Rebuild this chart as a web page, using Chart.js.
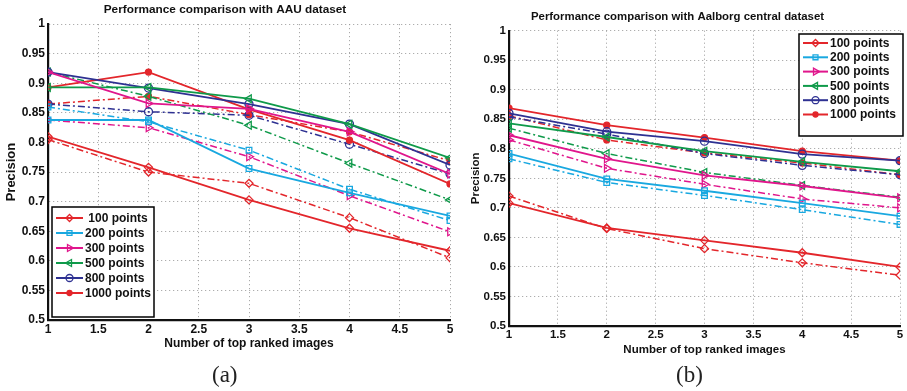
<!DOCTYPE html>
<html>
<head>
<meta charset="utf-8">
<script src="https://cdn.jsdelivr.net/npm/chart.js@4"></script>
<style>
  body { margin: 0; background: #fff; width: 907px; height: 391px; position: relative; overflow: hidden; }
  #wrapA { position: absolute; left: 0; top: 0; width: 460px; height: 391px; }
  #wrapB { position: absolute; left: 455px; top: 0; width: 452px; height: 391px; }
  .cap { position: absolute; top: 362px; font-family: "Liberation Serif", serif; font-size: 23px; color: #222; }
</style>
</head>
<body>
<div id="wrapA"><canvas id="chartA" width="460" height="391"></canvas></div>
<div id="wrapB"><canvas id="chartB" width="452" height="391"></canvas></div>
<div class="cap" style="left:212px">(a)</div>
<div class="cap" style="left:676px">(b)</div>
<script>
// ================== Data ==================
const xs = [1, 2, 3, 4, 5];
const labels = ["100 points", "200 points", "300 points", "500 points", "800 points", "1000 points"];

// (a) AAU dataset - solid lines
const aau100 = [0.810, 0.758, 0.703, 0.655, 0.617];
const aau200 = [0.838, 0.838, 0.756, 0.715, 0.676];
const aau300 = [0.919, 0.866, 0.857, 0.818, 0.747];
const aau500 = [0.893, 0.893, 0.874, 0.831, 0.774];
const aau800 = [0.919, 0.892, 0.865, 0.831, 0.762];
const aau1000 = [0.893, 0.919, 0.856, 0.804, 0.730];
// (a) AAU dataset - dash-dot lines
const aau100b = [0.805, 0.750, 0.731, 0.673, 0.605];
const aau200b = [0.860, 0.835, 0.787, 0.721, 0.668];
const aau300b = [0.838, 0.825, 0.776, 0.710, 0.649];
const aau500b = [0.919, 0.878, 0.829, 0.765, 0.703];
const aau800b = [0.865, 0.852, 0.846, 0.797, 0.747];
const aau1000b = [0.865, 0.878, 0.847, 0.818, 0.769];

// (b) Aalborg central dataset - solid lines
const aal100 = [0.708, 0.666, 0.645, 0.624, 0.600];
const aal200 = [0.792, 0.749, 0.729, 0.708, 0.686];
const aal300 = [0.823, 0.783, 0.755, 0.737, 0.717];
const aal500 = [0.843, 0.820, 0.796, 0.778, 0.762];
const aal800 = [0.860, 0.829, 0.813, 0.791, 0.780];
const aal1000 = [0.869, 0.840, 0.819, 0.796, 0.780];
// (b) Aalborg central dataset - dash-dot lines
const aal100b = [0.720, 0.665, 0.631, 0.607, 0.586];
const aal200b = [0.783, 0.743, 0.721, 0.697, 0.672];
const aal300b = [0.815, 0.767, 0.740, 0.715, 0.700];
const aal500b = [0.835, 0.792, 0.760, 0.738, 0.718];
const aal800b = [0.854, 0.825, 0.792, 0.772, 0.756];
const aal1000b = [0.856, 0.815, 0.793, 0.776, 0.756];

// ================== Styles ==================
const RED = "#e3262b";
const CYAN = "#19a8e0";
const MAGENTA = "#e0168c";
const GREEN = "#0f9a4a";
const NAVY = "#2e3192";

const seriesStyle = [
  { color: RED, pointStyle: "rectRot", radius: 4, rotation: 0, filled: false },
  { color: CYAN, pointStyle: "rect", radius: 4, rotation: 0, filled: false },
  { color: MAGENTA, pointStyle: "triangle", radius: 4.5, rotation: 90, filled: false },
  { color: GREEN, pointStyle: "triangle", radius: 4.5, rotation: -90, filled: false },
  { color: NAVY, pointStyle: "circle", radius: 4, rotation: 0, filled: false },
  { color: RED, pointStyle: "circle", radius: 3, rotation: 0, filled: true },
];

const toPoints = (vals) => vals.map((v, i) => ({ x: xs[i], y: v }));

function buildDatasets(solid, dashed) {
  const out = [];
  solid.forEach((vals, i) => {
    const s = seriesStyle[i];
    out.push({
      label: labels[i],
      data: toPoints(vals),
      borderColor: s.color,
      backgroundColor: s.filled ? s.color : "rgba(255,255,255,0)",
      borderWidth: 1.8,
      pointStyle: s.pointStyle,
      pointRadius: s.radius,
      pointRotation: s.rotation,
      pointBorderWidth: 1.3,
      tension: 0,
      dashed: false,
    });
  });
  dashed.forEach((vals, i) => {
    const s = seriesStyle[i];
    out.push({
      label: labels[i] + " (b)",
      data: toPoints(vals),
      borderColor: s.color,
      backgroundColor: s.filled ? s.color : "rgba(255,255,255,0)",
      borderWidth: 1.5,
      borderDash: [7, 3, 2, 3],
      pointStyle: s.pointStyle,
      pointRadius: s.radius,
      pointRotation: s.rotation,
      pointBorderWidth: 1.3,
      tension: 0,
      dashed: true,
    });
  });
  return out;
}

// ================== Legend plugin ==================
const boxLegend = {
  id: "boxLegend",
  afterDatasetsDraw(chart, args, opts) {
    const ctx = chart.ctx;
    ctx.save();
    ctx.fillStyle = "#fff";
    ctx.fillRect(opts.x, opts.y, opts.w, opts.h);
    ctx.lineWidth = 1.5;
    ctx.strokeStyle = "#000";
    ctx.setLineDash([]);
    ctx.strokeRect(opts.x, opts.y, opts.w, opts.h);
    const items = chart.data.datasets.filter((d) => !d.dashed);
    items.forEach((d, i) => {
      const cy = opts.y + opts.firstY + i * opts.rowH;
      ctx.strokeStyle = d.borderColor;
      ctx.lineWidth = 2;
      ctx.beginPath();
      ctx.moveTo(opts.x + opts.lineX0, cy);
      ctx.lineTo(opts.x + opts.lineX1, cy);
      ctx.stroke();
      ctx.fillStyle = d.backgroundColor;
      ctx.lineWidth = 1.3;
      Chart.helpers.drawPoint(ctx, {
        pointStyle: d.pointStyle,
        rotation: d.pointRotation,
        radius: d.pointRadius - 0.5,
        borderWidth: 1.3,
      }, opts.x + (opts.lineX0 + opts.lineX1) / 2, cy);
      ctx.fillStyle = "#111";
      ctx.font = "bold " + opts.fontSize + "px 'Liberation Sans', Arial, sans-serif";
      ctx.textBaseline = "middle";
      ctx.textAlign = "left";
      ctx.fillText(opts.prefix[i] + d.label, opts.x + opts.textX, cy + 0.5);
    });
    ctx.restore();
  },
};

const FONT = "'Liberation Sans', Arial, sans-serif";
const fmt = (v) => String(Number(v.toFixed(2)));

function makeOptions(cfg) {
  return {
    responsive: false,
    animation: false,
    layout: { padding: { left: 0, right: cfg.padRight, top: 0, bottom: cfg.padBottom } },
    plugins: {
      legend: { display: false },
      tooltip: { enabled: false },
      title: {
        display: true,
        text: cfg.title,
        color: "#111",
        font: { family: FONT, size: cfg.titleSize, weight: "bold" },
        padding: { top: cfg.titleTop, bottom: cfg.titleBottom },
      },
      boxLegend: cfg.legend,
    },
    scales: {
      x: {
        type: "linear",
        min: 1,
        max: 5,
        afterFit: (s) => { s.height = cfg.xHeight; },
        ticks: {
          stepSize: 0.5,
          color: "#111",
          padding: 2,
          font: { family: FONT, size: cfg.tickSize, weight: "bold" },
          callback: fmt,
        },
        grid: { color: "#9a9a9a", lineWidth: 1, drawTicks: false },
        border: { display: true, color: "#111", width: 2.2, dash: [1, 3] },
        title: {
          display: true,
          text: "Number of top ranked images",
          color: "#111",
          font: { family: FONT, size: cfg.axisTitleSize, weight: "bold" },
          padding: { top: 0, bottom: cfg.xTitleBottom },
        },
      },
      y: {
        type: "linear",
        min: 0.5,
        max: 1,
        afterFit: (s) => { s.width = cfg.yWidth; },
        ticks: {
          stepSize: 0.05,
          color: "#111",
          padding: 3,
          font: { family: FONT, size: cfg.tickSize, weight: "bold" },
          callback: fmt,
        },
        grid: { color: "#9a9a9a", lineWidth: 1, drawTicks: false },
        border: { display: true, color: "#111", width: 2.2, dash: [1, 3] },
        title: {
          display: true,
          text: "Precision",
          color: "#111",
          font: { family: FONT, size: cfg.yTitleSize, weight: "bold" },
          padding: { top: cfg.yTitleTop, bottom: 0 },
        },
      },
    },
  };
}

// ================== Charts ==================
new Chart(document.getElementById("chartA").getContext("2d"), {
  type: "line",
  data: {
    datasets: buildDatasets(
      [aau100, aau200, aau300, aau500, aau800, aau1000],
      [aau100b, aau200b, aau300b, aau500b, aau800b, aau1000b]
    ),
  },
  options: makeOptions({
    title: "Performance comparison with AAU dataset",
    titleSize: 11.8, titleTop: 3, titleBottom: 7,
    padRight: 10, padBottom: 36,
    xHeight: 35, yWidth: 48,
    tickSize: 12, axisTitleSize: 12, xTitleBottom: 4, yTitleSize: 13, yTitleTop: 4,
    legend: {
      x: 52, y: 207, w: 102, h: 110, firstY: 11, rowH: 15,
      lineX0: 4, lineX1: 31, textX: 33, fontSize: 12,
      prefix: [" ", "", "", "", "", ""],
    },
  }),
  plugins: [boxLegend],
});

new Chart(document.getElementById("chartB").getContext("2d"), {
  type: "line",
  data: {
    datasets: buildDatasets(
      [aal100, aal200, aal300, aal500, aal800, aal1000],
      [aal100b, aal200b, aal300b, aal500b, aal800b, aal1000b]
    ),
  },
  options: makeOptions({
    title: "Performance comparison with Aalborg central dataset",
    titleSize: 11.4, titleTop: 10, titleBottom: 7,
    padRight: 7, padBottom: 30,
    xHeight: 35, yWidth: 54,
    tickSize: 11.5, axisTitleSize: 11.5, xTitleBottom: 4, yTitleSize: 11.5, yTitleTop: 14,
    legend: {
      x: 344, y: 34, w: 104, h: 102, firstY: 9, rowH: 14.3,
      lineX0: 4, lineX1: 29, textX: 31, fontSize: 12,
      prefix: ["", "", "", "", "", ""],
    },
  }),
  plugins: [boxLegend],
});
</script>
</body>
</html>
